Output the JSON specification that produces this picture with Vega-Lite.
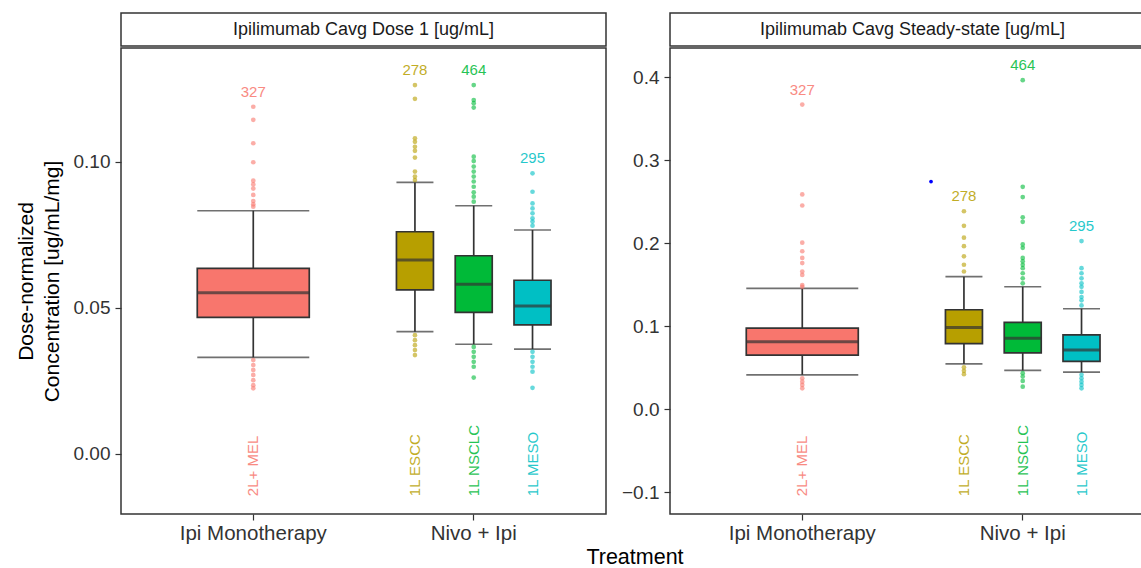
{
"$schema": "https://vega.github.io/schema/vega-lite/v6.json",
"padding": {"left": 14, "top": 12, "right": 0, "bottom": 0},
"config": {"font": "Liberation Sans", "view": {"stroke": "#333333", "strokeWidth": 1.5}, "axis": {"grid": false, "domain": false}},
"title": {"text": "Treatment", "orient": "bottom", "anchor": "middle", "frame": "group", "fontSize": 21.5, "fontWeight": "normal", "color": "#000000", "offset": 3, "dx": 514},
"datasets": {
"stats": [
{"panel":"D1","treatment":"Ipi Monotherapy","indication":"2L+ MEL","n":327,"lower":0.0330,"q1":0.0467,"median":0.0551,"q3":0.0635,"upper":0.0832,"max":0.1188},
{"panel":"D1","treatment":"Nivo + Ipi","indication":"1L ESCC","n":278,"lower":0.0418,"q1":0.0561,"median":0.0663,"q3":0.0760,"upper":0.0929,"max":0.1262},
{"panel":"D1","treatment":"Nivo + Ipi","indication":"1L NSCLC","n":464,"lower":0.0375,"q1":0.0484,"median":0.0580,"q3":0.0678,"upper":0.0849,"max":0.1262},
{"panel":"D1","treatment":"Nivo + Ipi","indication":"1L MESO","n":295,"lower":0.0358,"q1":0.0441,"median":0.0506,"q3":0.0594,"upper":0.0766,"max":0.0960},
{"panel":"SS","treatment":"Ipi Monotherapy","indication":"2L+ MEL","n":327,"lower":0.0412,"q1":0.0649,"median":0.0812,"q3":0.0975,"upper":0.1453,"max":0.3668},
{"panel":"SS","treatment":"Nivo + Ipi","indication":"1L ESCC","n":278,"lower":0.0543,"q1":0.0787,"median":0.0983,"q3":0.1196,"upper":0.1595,"max":0.2383},
{"panel":"SS","treatment":"Nivo + Ipi","indication":"1L NSCLC","n":464,"lower":0.0465,"q1":0.0677,"median":0.0853,"q3":0.1044,"upper":0.1473,"max":0.3962},
{"panel":"SS","treatment":"Nivo + Ipi","indication":"1L MESO","n":295,"lower":0.0444,"q1":0.0575,"median":0.0710,"q3":0.0894,"upper":0.1208,"max":0.2023}
],
"outliers": [
{"panel":"D1","treatment":"Ipi Monotherapy","indication":"2L+ MEL","value":0.1188},
{"panel":"D1","treatment":"Ipi Monotherapy","indication":"2L+ MEL","value":0.1143},
{"panel":"D1","treatment":"Ipi Monotherapy","indication":"2L+ MEL","value":0.1063},
{"panel":"D1","treatment":"Ipi Monotherapy","indication":"2L+ MEL","value":0.0998},
{"panel":"D1","treatment":"Ipi Monotherapy","indication":"2L+ MEL","value":0.0935},
{"panel":"D1","treatment":"Ipi Monotherapy","indication":"2L+ MEL","value":0.0922},
{"panel":"D1","treatment":"Ipi Monotherapy","indication":"2L+ MEL","value":0.0908},
{"panel":"D1","treatment":"Ipi Monotherapy","indication":"2L+ MEL","value":0.0886},
{"panel":"D1","treatment":"Ipi Monotherapy","indication":"2L+ MEL","value":0.0865},
{"panel":"D1","treatment":"Ipi Monotherapy","indication":"2L+ MEL","value":0.0854},
{"panel":"D1","treatment":"Ipi Monotherapy","indication":"2L+ MEL","value":0.0846},
{"panel":"D1","treatment":"Ipi Monotherapy","indication":"2L+ MEL","value":0.0321},
{"panel":"D1","treatment":"Ipi Monotherapy","indication":"2L+ MEL","value":0.0304},
{"panel":"D1","treatment":"Ipi Monotherapy","indication":"2L+ MEL","value":0.0287},
{"panel":"D1","treatment":"Ipi Monotherapy","indication":"2L+ MEL","value":0.0270},
{"panel":"D1","treatment":"Ipi Monotherapy","indication":"2L+ MEL","value":0.0252},
{"panel":"D1","treatment":"Ipi Monotherapy","indication":"2L+ MEL","value":0.0235},
{"panel":"D1","treatment":"Ipi Monotherapy","indication":"2L+ MEL","value":0.0224},
{"panel":"D1","treatment":"Nivo + Ipi","indication":"1L ESCC","value":0.1262},
{"panel":"D1","treatment":"Nivo + Ipi","indication":"1L ESCC","value":0.1215},
{"panel":"D1","treatment":"Nivo + Ipi","indication":"1L ESCC","value":0.1080},
{"panel":"D1","treatment":"Nivo + Ipi","indication":"1L ESCC","value":0.1068},
{"panel":"D1","treatment":"Nivo + Ipi","indication":"1L ESCC","value":0.1051},
{"panel":"D1","treatment":"Nivo + Ipi","indication":"1L ESCC","value":0.1037},
{"panel":"D1","treatment":"Nivo + Ipi","indication":"1L ESCC","value":0.1014},
{"panel":"D1","treatment":"Nivo + Ipi","indication":"1L ESCC","value":0.0966},
{"panel":"D1","treatment":"Nivo + Ipi","indication":"1L ESCC","value":0.0949},
{"panel":"D1","treatment":"Nivo + Ipi","indication":"1L ESCC","value":0.0937},
{"panel":"D1","treatment":"Nivo + Ipi","indication":"1L ESCC","value":0.0406},
{"panel":"D1","treatment":"Nivo + Ipi","indication":"1L ESCC","value":0.0389},
{"panel":"D1","treatment":"Nivo + Ipi","indication":"1L ESCC","value":0.0372},
{"panel":"D1","treatment":"Nivo + Ipi","indication":"1L ESCC","value":0.0355},
{"panel":"D1","treatment":"Nivo + Ipi","indication":"1L ESCC","value":0.0338},
{"panel":"D1","treatment":"Nivo + Ipi","indication":"1L NSCLC","value":0.1262},
{"panel":"D1","treatment":"Nivo + Ipi","indication":"1L NSCLC","value":0.1211},
{"panel":"D1","treatment":"Nivo + Ipi","indication":"1L NSCLC","value":0.1200},
{"panel":"D1","treatment":"Nivo + Ipi","indication":"1L NSCLC","value":0.1185},
{"panel":"D1","treatment":"Nivo + Ipi","indication":"1L NSCLC","value":0.1017},
{"panel":"D1","treatment":"Nivo + Ipi","indication":"1L NSCLC","value":0.1002},
{"panel":"D1","treatment":"Nivo + Ipi","indication":"1L NSCLC","value":0.0983},
{"panel":"D1","treatment":"Nivo + Ipi","indication":"1L NSCLC","value":0.0966},
{"panel":"D1","treatment":"Nivo + Ipi","indication":"1L NSCLC","value":0.0949},
{"panel":"D1","treatment":"Nivo + Ipi","indication":"1L NSCLC","value":0.0932},
{"panel":"D1","treatment":"Nivo + Ipi","indication":"1L NSCLC","value":0.0914},
{"panel":"D1","treatment":"Nivo + Ipi","indication":"1L NSCLC","value":0.0895},
{"panel":"D1","treatment":"Nivo + Ipi","indication":"1L NSCLC","value":0.0880},
{"panel":"D1","treatment":"Nivo + Ipi","indication":"1L NSCLC","value":0.0863},
{"panel":"D1","treatment":"Nivo + Ipi","indication":"1L NSCLC","value":0.0366},
{"panel":"D1","treatment":"Nivo + Ipi","indication":"1L NSCLC","value":0.0349},
{"panel":"D1","treatment":"Nivo + Ipi","indication":"1L NSCLC","value":0.0332},
{"panel":"D1","treatment":"Nivo + Ipi","indication":"1L NSCLC","value":0.0315},
{"panel":"D1","treatment":"Nivo + Ipi","indication":"1L NSCLC","value":0.0298},
{"panel":"D1","treatment":"Nivo + Ipi","indication":"1L NSCLC","value":0.0261},
{"panel":"D1","treatment":"Nivo + Ipi","indication":"1L MESO","value":0.0960},
{"panel":"D1","treatment":"Nivo + Ipi","indication":"1L MESO","value":0.0897},
{"panel":"D1","treatment":"Nivo + Ipi","indication":"1L MESO","value":0.0857},
{"panel":"D1","treatment":"Nivo + Ipi","indication":"1L MESO","value":0.0840},
{"panel":"D1","treatment":"Nivo + Ipi","indication":"1L MESO","value":0.0823},
{"panel":"D1","treatment":"Nivo + Ipi","indication":"1L MESO","value":0.0806},
{"panel":"D1","treatment":"Nivo + Ipi","indication":"1L MESO","value":0.0795},
{"panel":"D1","treatment":"Nivo + Ipi","indication":"1L MESO","value":0.0781},
{"panel":"D1","treatment":"Nivo + Ipi","indication":"1L MESO","value":0.0349},
{"panel":"D1","treatment":"Nivo + Ipi","indication":"1L MESO","value":0.0332},
{"panel":"D1","treatment":"Nivo + Ipi","indication":"1L MESO","value":0.0315},
{"panel":"D1","treatment":"Nivo + Ipi","indication":"1L MESO","value":0.0298},
{"panel":"D1","treatment":"Nivo + Ipi","indication":"1L MESO","value":0.0281},
{"panel":"D1","treatment":"Nivo + Ipi","indication":"1L MESO","value":0.0226},
{"panel":"SS","treatment":"Ipi Monotherapy","indication":"2L+ MEL","value":0.3668},
{"panel":"SS","treatment":"Ipi Monotherapy","indication":"2L+ MEL","value":0.2586},
{"panel":"SS","treatment":"Ipi Monotherapy","indication":"2L+ MEL","value":0.2452},
{"panel":"SS","treatment":"Ipi Monotherapy","indication":"2L+ MEL","value":0.2004},
{"panel":"SS","treatment":"Ipi Monotherapy","indication":"2L+ MEL","value":0.1901},
{"panel":"SS","treatment":"Ipi Monotherapy","indication":"2L+ MEL","value":0.1820},
{"panel":"SS","treatment":"Ipi Monotherapy","indication":"2L+ MEL","value":0.1759},
{"panel":"SS","treatment":"Ipi Monotherapy","indication":"2L+ MEL","value":0.1657},
{"panel":"SS","treatment":"Ipi Monotherapy","indication":"2L+ MEL","value":0.1616},
{"panel":"SS","treatment":"Ipi Monotherapy","indication":"2L+ MEL","value":0.1493},
{"panel":"SS","treatment":"Ipi Monotherapy","indication":"2L+ MEL","value":0.1472},
{"panel":"SS","treatment":"Ipi Monotherapy","indication":"2L+ MEL","value":0.0371},
{"panel":"SS","treatment":"Ipi Monotherapy","indication":"2L+ MEL","value":0.0330},
{"panel":"SS","treatment":"Ipi Monotherapy","indication":"2L+ MEL","value":0.0290},
{"panel":"SS","treatment":"Ipi Monotherapy","indication":"2L+ MEL","value":0.0249},
{"panel":"SS","treatment":"Nivo + Ipi","indication":"1L ESCC","value":0.2383},
{"panel":"SS","treatment":"Nivo + Ipi","indication":"1L ESCC","value":0.2207},
{"panel":"SS","treatment":"Nivo + Ipi","indication":"1L ESCC","value":0.2065},
{"panel":"SS","treatment":"Nivo + Ipi","indication":"1L ESCC","value":0.1962},
{"panel":"SS","treatment":"Nivo + Ipi","indication":"1L ESCC","value":0.1840},
{"panel":"SS","treatment":"Nivo + Ipi","indication":"1L ESCC","value":0.1738},
{"panel":"SS","treatment":"Nivo + Ipi","indication":"1L ESCC","value":0.1657},
{"panel":"SS","treatment":"Nivo + Ipi","indication":"1L ESCC","value":0.0502},
{"panel":"SS","treatment":"Nivo + Ipi","indication":"1L ESCC","value":0.0461},
{"panel":"SS","treatment":"Nivo + Ipi","indication":"1L ESCC","value":0.0420},
{"panel":"SS","treatment":"Nivo + Ipi","indication":"1L NSCLC","value":0.3962},
{"panel":"SS","treatment":"Nivo + Ipi","indication":"1L NSCLC","value":0.2677},
{"panel":"SS","treatment":"Nivo + Ipi","indication":"1L NSCLC","value":0.2554},
{"panel":"SS","treatment":"Nivo + Ipi","indication":"1L NSCLC","value":0.2310},
{"panel":"SS","treatment":"Nivo + Ipi","indication":"1L NSCLC","value":0.2256},
{"panel":"SS","treatment":"Nivo + Ipi","indication":"1L NSCLC","value":0.1983},
{"panel":"SS","treatment":"Nivo + Ipi","indication":"1L NSCLC","value":0.1942},
{"panel":"SS","treatment":"Nivo + Ipi","indication":"1L NSCLC","value":0.1820},
{"panel":"SS","treatment":"Nivo + Ipi","indication":"1L NSCLC","value":0.1779},
{"panel":"SS","treatment":"Nivo + Ipi","indication":"1L NSCLC","value":0.1738},
{"panel":"SS","treatment":"Nivo + Ipi","indication":"1L NSCLC","value":0.1697},
{"panel":"SS","treatment":"Nivo + Ipi","indication":"1L NSCLC","value":0.1636},
{"panel":"SS","treatment":"Nivo + Ipi","indication":"1L NSCLC","value":0.1575},
{"panel":"SS","treatment":"Nivo + Ipi","indication":"1L NSCLC","value":0.1514},
{"panel":"SS","treatment":"Nivo + Ipi","indication":"1L NSCLC","value":0.0432},
{"panel":"SS","treatment":"Nivo + Ipi","indication":"1L NSCLC","value":0.0392},
{"panel":"SS","treatment":"Nivo + Ipi","indication":"1L NSCLC","value":0.0339},
{"panel":"SS","treatment":"Nivo + Ipi","indication":"1L NSCLC","value":0.0269},
{"panel":"SS","treatment":"Nivo + Ipi","indication":"1L MESO","value":0.2023},
{"panel":"SS","treatment":"Nivo + Ipi","indication":"1L MESO","value":0.1697},
{"panel":"SS","treatment":"Nivo + Ipi","indication":"1L MESO","value":0.1636},
{"panel":"SS","treatment":"Nivo + Ipi","indication":"1L MESO","value":0.1575},
{"panel":"SS","treatment":"Nivo + Ipi","indication":"1L MESO","value":0.1514},
{"panel":"SS","treatment":"Nivo + Ipi","indication":"1L MESO","value":0.1472},
{"panel":"SS","treatment":"Nivo + Ipi","indication":"1L MESO","value":0.1411},
{"panel":"SS","treatment":"Nivo + Ipi","indication":"1L MESO","value":0.1350},
{"panel":"SS","treatment":"Nivo + Ipi","indication":"1L MESO","value":0.1310},
{"panel":"SS","treatment":"Nivo + Ipi","indication":"1L MESO","value":0.1248},
{"panel":"SS","treatment":"Nivo + Ipi","indication":"1L MESO","value":0.0412},
{"panel":"SS","treatment":"Nivo + Ipi","indication":"1L MESO","value":0.0371},
{"panel":"SS","treatment":"Nivo + Ipi","indication":"1L MESO","value":0.0330},
{"panel":"SS","treatment":"Nivo + Ipi","indication":"1L MESO","value":0.0290},
{"panel":"SS","treatment":"Nivo + Ipi","indication":"1L MESO","value":0.0249}
]
},
"spacing": 13,
"hconcat": [
{
"spacing": 0,
"vconcat": [
{"width": 485, "height": 33, "data": {"values": [{"label": "Ipilimumab Cavg Dose 1 [ug/mL]"}]},
"layer": [
{"mark": {"type": "rect", "fill": "#ffffff", "stroke": "#333333", "strokeWidth": 1.5}, "encoding": {}},
{"mark": {"type": "text", "fontSize": 18, "color": "#1a1a1a"}, "encoding": {"text": {"field": "label"}}}
]},
{"width": 485, "height": 466,
"layer": [
{"data": {"name": "stats"}, "transform": [{"filter": "datum.panel === 'D1' && datum.treatment === 'Ipi Monotherapy'"}],
"encoding": {"x": {"field": "treatment", "type": "nominal", "scale": {"domain": ["Ipi Monotherapy", "Nivo + Ipi"], "paddingInner": 0.2, "paddingOuter": 0.2}, "axis": {"title": null, "labelAngle": 0, "labelFontSize": 20.5, "labelColor": "#333333", "tickSize": 6, "tickColor": "#333333", "tickWidth": 1.2, "labelPadding": 3}}},
"layer": [
{"mark": {"type": "rule", "color": "#333333", "strokeWidth": 1.7}, "encoding": {"y": {"field": "lower", "type": "quantitative", "scale": {"domain": [-0.0206, 0.1389], "nice": false, "zero": false}, "axis": {"title": ["Dose-normalized", "Concentration [ug/mL/mg]"], "values": [0, 0.05, 0.1], "format": ".2f", "labelFontSize": 19, "labelColor": "#333333", "tickSize": 6, "tickColor": "#333333", "tickWidth": 1.2, "labelPadding": 5, "titleFontSize": 21, "titleFontWeight": "normal", "titleColor": "#000000", "titlePadding": 11, "titleLineHeight": 26}}, "y2": {"field": "upper"}}},
{"mark": {"type": "tick", "size": 112, "thickness": 1.7, "color": "#333333"}, "encoding": {"y": {"field": "lower", "type": "quantitative"}}},
{"mark": {"type": "tick", "size": 112, "thickness": 1.7, "color": "#333333"}, "encoding": {"y": {"field": "upper", "type": "quantitative"}}},
{"mark": {"type": "bar", "width": 112, "stroke": "#333333", "strokeWidth": 1.7, "opacity": 1}, "encoding": {"y": {"field": "q1", "type": "quantitative"}, "y2": {"field": "q3"}, "color": {"field": "indication", "type": "nominal", "scale": {"domain": ["2L+ MEL", "1L ESCC", "1L NSCLC", "1L MESO"], "range": ["#F8766D", "#B79F00", "#00BA38", "#00BFC4"]}, "legend": null}}},
{"mark": {"type": "tick", "size": 112, "thickness": 3, "color": "#333333"}, "encoding": {"y": {"field": "median", "type": "quantitative"}}},
{"mark": {"type": "text", "fontSize": 15, "dy": -15, "opacity": 0.85}, "encoding": {"y": {"field": "max", "type": "quantitative"}, "text": {"field": "n"}, "color": {"field": "indication", "type": "nominal", "legend": null}}},
{"mark": {"type": "text", "fontSize": 15, "angle": 270, "align": "left", "baseline": "middle", "opacity": 0.85}, "encoding": {"y": {"datum": -0.0145}, "text": {"field": "indication"}, "color": {"field": "indication", "type": "nominal", "legend": null}}}
]},
{"data": {"name": "outliers"}, "transform": [{"filter": "datum.panel === 'D1' && datum.treatment === 'Ipi Monotherapy'"}],
"mark": {"type": "circle", "size": 22, "opacity": 0.6},
"encoding": {"x": {"field": "treatment", "type": "nominal"}, "y": {"field": "value", "type": "quantitative"}, "color": {"field": "indication", "type": "nominal", "legend": null}}},
{"data": {"name": "stats"}, "transform": [{"filter": "datum.panel === 'D1' && datum.treatment === 'Nivo + Ipi'"}],
"encoding": {"x": {"field": "treatment", "type": "nominal"}, "xOffset": {"field": "indication", "type": "nominal", "scale": {"domain": ["1L ESCC", "1L NSCLC", "1L MESO"], "paddingInner": 0, "paddingOuter": 0}}},
"layer": [
{"mark": {"type": "rule", "color": "#333333", "strokeWidth": 1.7}, "encoding": {"y": {"field": "lower", "type": "quantitative"}, "y2": {"field": "upper"}}},
{"mark": {"type": "tick", "size": 37, "thickness": 1.7, "color": "#333333"}, "encoding": {"y": {"field": "lower", "type": "quantitative"}}},
{"mark": {"type": "tick", "size": 37, "thickness": 1.7, "color": "#333333"}, "encoding": {"y": {"field": "upper", "type": "quantitative"}}},
{"mark": {"type": "bar", "width": 37, "stroke": "#333333", "strokeWidth": 1.7, "opacity": 1}, "encoding": {"y": {"field": "q1", "type": "quantitative"}, "y2": {"field": "q3"}, "color": {"field": "indication", "type": "nominal", "legend": null}}},
{"mark": {"type": "tick", "size": 37, "thickness": 3, "color": "#333333"}, "encoding": {"y": {"field": "median", "type": "quantitative"}}},
{"mark": {"type": "text", "fontSize": 15, "dy": -15, "opacity": 0.85}, "encoding": {"y": {"field": "max", "type": "quantitative"}, "text": {"field": "n"}, "color": {"field": "indication", "type": "nominal", "legend": null}}},
{"mark": {"type": "text", "fontSize": 15, "angle": 270, "align": "left", "baseline": "middle", "opacity": 0.85}, "encoding": {"y": {"datum": -0.0145}, "text": {"field": "indication"}, "color": {"field": "indication", "type": "nominal", "legend": null}}}
]},
{"data": {"name": "outliers"}, "transform": [{"filter": "datum.panel === 'D1' && datum.treatment === 'Nivo + Ipi'"}],
"mark": {"type": "circle", "size": 22, "opacity": 0.6},
"encoding": {"x": {"field": "treatment", "type": "nominal"}, "xOffset": {"field": "indication", "type": "nominal"}, "y": {"field": "value", "type": "quantitative"}, "color": {"field": "indication", "type": "nominal", "legend": null}}}
]}
]
},
{
"spacing": 0,
"vconcat": [
{"width": 475, "height": 33, "data": {"values": [{"label": "Ipilimumab Cavg Steady-state [ug/mL]"}]},
"layer": [
{"mark": {"type": "rect", "fill": "#ffffff", "stroke": "#333333", "strokeWidth": 1.5}, "encoding": {}},
{"mark": {"type": "text", "fontSize": 18, "color": "#1a1a1a", "dx": 5}, "encoding": {"text": {"field": "label"}}}
]},
{"width": 475, "height": 466,
"layer": [
{"data": {"name": "stats"}, "transform": [{"filter": "datum.panel === 'SS' && datum.treatment === 'Ipi Monotherapy'"}],
"encoding": {"x": {"field": "treatment", "type": "nominal", "scale": {"domain": ["Ipi Monotherapy", "Nivo + Ipi"], "paddingInner": 0.2, "paddingOuter": 0.2, "range": [0, 485]}, "axis": {"title": null, "labelAngle": 0, "labelFontSize": 20.5, "labelColor": "#333333", "tickSize": 6, "tickColor": "#333333", "tickWidth": 1.2, "labelPadding": 3}}},
"layer": [
{"mark": {"type": "rule", "color": "#333333", "strokeWidth": 1.7}, "encoding": {"y": {"field": "lower", "type": "quantitative", "scale": {"domain": [-0.1265, 0.435], "nice": false, "zero": false}, "axis": {"title": null, "values": [-0.1, 0, 0.1, 0.2, 0.3, 0.4], "format": ".1f", "labelFontSize": 19, "labelColor": "#333333", "tickSize": 6, "tickColor": "#333333", "tickWidth": 1.2, "labelPadding": 5}}, "y2": {"field": "upper"}}},
{"mark": {"type": "tick", "size": 112, "thickness": 1.7, "color": "#333333"}, "encoding": {"y": {"field": "lower", "type": "quantitative"}}},
{"mark": {"type": "tick", "size": 112, "thickness": 1.7, "color": "#333333"}, "encoding": {"y": {"field": "upper", "type": "quantitative"}}},
{"mark": {"type": "bar", "width": 112, "stroke": "#333333", "strokeWidth": 1.7, "opacity": 1}, "encoding": {"y": {"field": "q1", "type": "quantitative"}, "y2": {"field": "q3"}, "color": {"field": "indication", "type": "nominal", "scale": {"domain": ["2L+ MEL", "1L ESCC", "1L NSCLC", "1L MESO"], "range": ["#F8766D", "#B79F00", "#00BA38", "#00BFC4"]}, "legend": null}}},
{"mark": {"type": "tick", "size": 112, "thickness": 3, "color": "#333333"}, "encoding": {"y": {"field": "median", "type": "quantitative"}}},
{"mark": {"type": "text", "fontSize": 15, "dy": -15, "opacity": 0.85}, "encoding": {"y": {"field": "max", "type": "quantitative"}, "text": {"field": "n"}, "color": {"field": "indication", "type": "nominal", "legend": null}}},
{"mark": {"type": "text", "fontSize": 15, "angle": 270, "align": "left", "baseline": "middle", "opacity": 0.85}, "encoding": {"y": {"datum": -0.105}, "text": {"field": "indication"}, "color": {"field": "indication", "type": "nominal", "legend": null}}}
]},
{"data": {"name": "outliers"}, "transform": [{"filter": "datum.panel === 'SS' && datum.treatment === 'Ipi Monotherapy'"}],
"mark": {"type": "circle", "size": 22, "opacity": 0.6},
"encoding": {"x": {"field": "treatment", "type": "nominal"}, "y": {"field": "value", "type": "quantitative"}, "color": {"field": "indication", "type": "nominal", "legend": null}}},
{"data": {"name": "stats"}, "transform": [{"filter": "datum.panel === 'SS' && datum.treatment === 'Nivo + Ipi'"}],
"encoding": {"x": {"field": "treatment", "type": "nominal"}, "xOffset": {"field": "indication", "type": "nominal", "scale": {"domain": ["1L ESCC", "1L NSCLC", "1L MESO"], "paddingInner": 0, "paddingOuter": 0}}},
"layer": [
{"mark": {"type": "rule", "color": "#333333", "strokeWidth": 1.7}, "encoding": {"y": {"field": "lower", "type": "quantitative"}, "y2": {"field": "upper"}}},
{"mark": {"type": "tick", "size": 37, "thickness": 1.7, "color": "#333333"}, "encoding": {"y": {"field": "lower", "type": "quantitative"}}},
{"mark": {"type": "tick", "size": 37, "thickness": 1.7, "color": "#333333"}, "encoding": {"y": {"field": "upper", "type": "quantitative"}}},
{"mark": {"type": "bar", "width": 37, "stroke": "#333333", "strokeWidth": 1.7, "opacity": 1}, "encoding": {"y": {"field": "q1", "type": "quantitative"}, "y2": {"field": "q3"}, "color": {"field": "indication", "type": "nominal", "legend": null}}},
{"mark": {"type": "tick", "size": 37, "thickness": 3, "color": "#333333"}, "encoding": {"y": {"field": "median", "type": "quantitative"}}},
{"mark": {"type": "text", "fontSize": 15, "dy": -15, "opacity": 0.85}, "encoding": {"y": {"field": "max", "type": "quantitative"}, "text": {"field": "n"}, "color": {"field": "indication", "type": "nominal", "legend": null}}},
{"mark": {"type": "text", "fontSize": 15, "angle": 270, "align": "left", "baseline": "middle", "opacity": 0.85}, "encoding": {"y": {"datum": -0.105}, "text": {"field": "indication"}, "color": {"field": "indication", "type": "nominal", "legend": null}}}
]},
{"data": {"name": "outliers"}, "transform": [{"filter": "datum.panel === 'SS' && datum.treatment === 'Nivo + Ipi'"}],
"mark": {"type": "circle", "size": 22, "opacity": 0.6},
"encoding": {"x": {"field": "treatment", "type": "nominal"}, "xOffset": {"field": "indication", "type": "nominal"}, "y": {"field": "value", "type": "quantitative"}, "color": {"field": "indication", "type": "nominal", "legend": null}}},
{"data": {"values": [{"treatment": "Nivo + Ipi", "value": 0.274}]},
"mark": {"type": "circle", "size": 14, "color": "#0000FF", "opacity": 1},
"encoding": {"x": {"field": "treatment", "type": "nominal", "bandPosition": -0.02}, "y": {"field": "value", "type": "quantitative"}}}
]}
]
}
]
}
